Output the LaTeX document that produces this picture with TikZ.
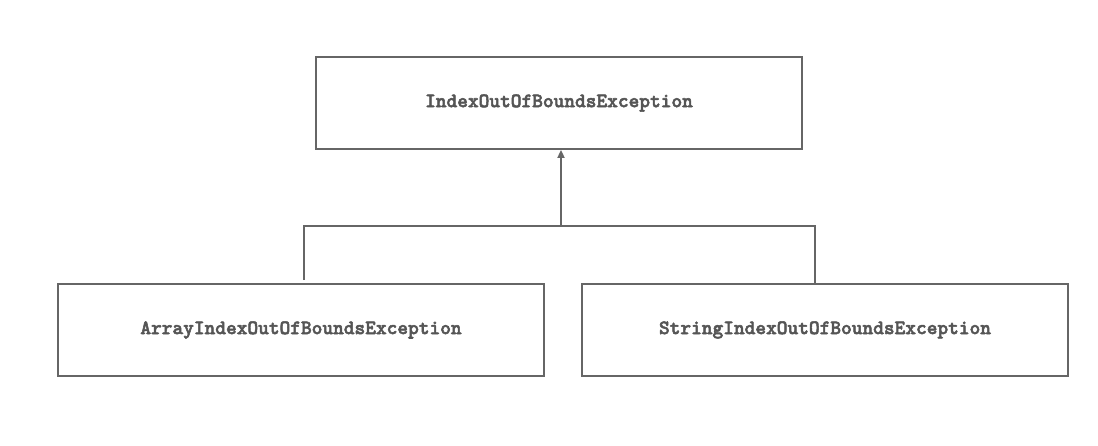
\documentclass[tikz,border=0pt]{standalone}
\usepackage{fontspec}
\setmonofont{lmmonolt10-bold.otf}[FakeBold=2.5]
\usetikzlibrary{arrows.meta}
\definecolor{linec}{HTML}{666666}
\definecolor{textc}{HTML}{555555}
\begin{document}
\begin{tikzpicture}[x=1pt,y=-1pt,
  cls/.style={draw=linec,line width=1.8pt,minimum width=486pt,minimum height=92pt,inner sep=0pt,
    font=\ttfamily\fontsize{20.4}{22}\selectfont,text=textc},
  conn/.style={draw=linec,line width=1.8pt}]
\useasboundingbox (0,0) rectangle (1098,445);
\node[cls] (top) at (559,103) {IndexOutOfBoundsException};
\node[cls] (left) at (301,330) {ArrayIndexOutOfBoundsException};
\node[cls] (right) at (825,330) {StringIndexOutOfBoundsException};
\coordinate (jl) at (304,226);
\coordinate (jm) at (561,226);
\coordinate (jr) at (815,226);
\draw[conn] (left.north -| jl) ++(0,-3) -- (jl) -- (jr) -- (right.north -| jr);
\draw[conn,-{Triangle[length=8pt,width=7pt]}] (jm) -- (top.south -| jm);
\end{tikzpicture}
\end{document}
